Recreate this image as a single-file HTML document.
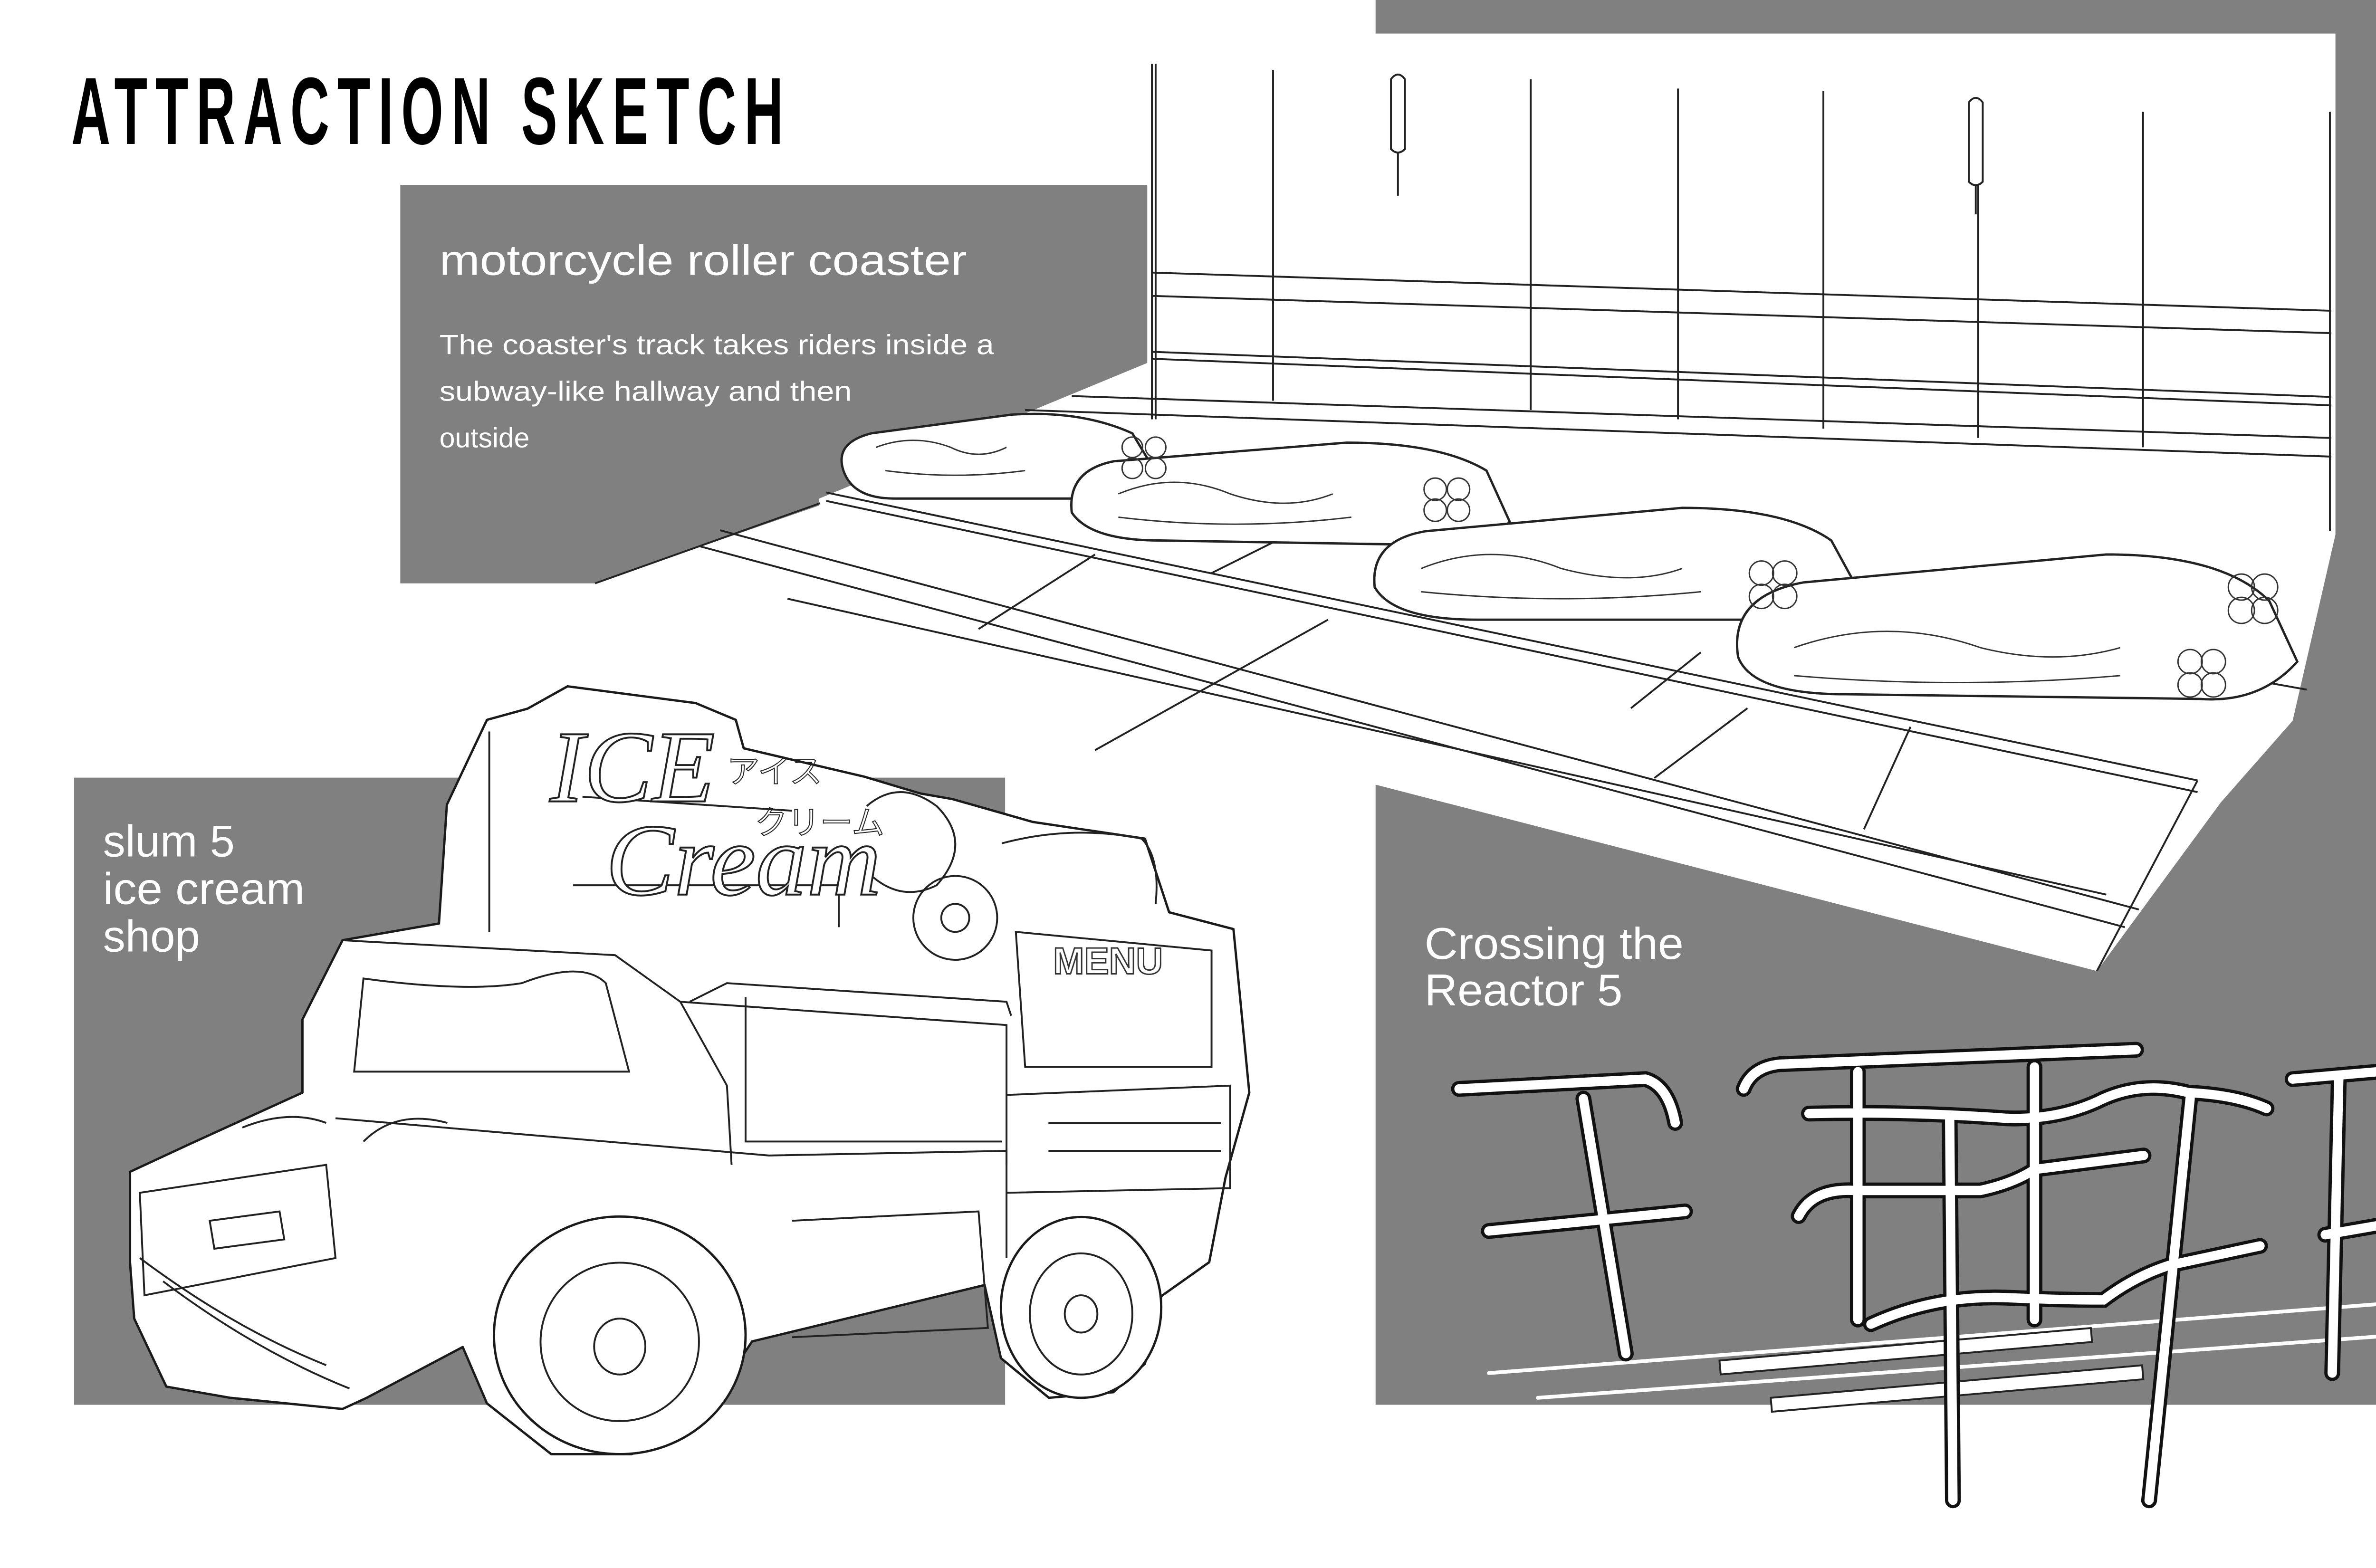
<!DOCTYPE html>
<html><head><meta charset="utf-8"><style>
html,body{margin:0;padding:0;background:#fff;}
svg{display:block}
</style></head><body>
<svg width="5100" height="3300" viewBox="0 0 5100 3300" xmlns="http://www.w3.org/2000/svg">
<rect width="5100" height="3300" fill="#fff"/>
<g transform="scale(0.9806)">
<!-- right gray region -->
<polygon fill="#808080" points="2952,0 5220,0 5220,3015 2952,3015 2952,1684 4500,2084 4766,1722 4920,1547 5012,1147 5012,72 2952,72"/>
<rect x="5012" y="0" width="210" height="1200" fill="#808080"/>
<!-- coaster box -->
<polygon fill="#808080" points="859,397 2462,397 2462,779 1758,1070 1758,1085 1277,1252 859,1252"/>
<!-- ice cream box -->
<rect x="159" y="1669" width="1998" height="1346" fill="#808080"/>

<!-- coaster line art -->
<g stroke="#222" stroke-width="4" fill="none">
<line x1="2472" y1="137" x2="2472" y2="900"/><line x1="2480" y1="137" x2="2480" y2="900"/>
<line x1="2732" y1="150" x2="2732" y2="860"/>
<line x1="3285" y1="170" x2="3285" y2="880"/>
<line x1="3601" y1="190" x2="3601" y2="900"/>
<line x1="3913" y1="195" x2="3913" y2="920"/>
<line x1="4245" y1="215" x2="4245" y2="940"/>
<line x1="4599" y1="240" x2="4599" y2="960"/>
<line x1="5000" y1="240" x2="5000" y2="1140"/>
<line x1="2472" y1="585" x2="5003" y2="667"/>
<line x1="2472" y1="635" x2="5003" y2="715"/>
<line x1="2472" y1="755" x2="5003" y2="852"/>
<line x1="2472" y1="770" x2="5003" y2="870"/>
<line x1="2300" y1="850" x2="5003" y2="940"/>
<line x1="2200" y1="880" x2="5003" y2="980"/>
<line x1="3000" y1="210" x2="3000" y2="420"/>
<line x1="4240" y1="260" x2="4240" y2="460"/>
<path d="M2985,170 q15,-20 30,0 l0,150 q-15,15 -30,0 z" fill="#fff"/>
<path d="M4225,220 q15,-20 30,0 l0,170 q-15,15 -30,0 z" fill="#fff"/>
<line x1="1773" y1="1057" x2="4716" y2="1675"/>
<line x1="1773" y1="1075" x2="4716" y2="1700"/>
<line x1="1545" y1="1138" x2="4590" y2="1952"/>
<line x1="1500" y1="1172" x2="4560" y2="1990"/>
<line x1="1690" y1="1285" x2="4520" y2="1920"/>
<line x1="1277" y1="1252" x2="1760" y2="1080"/>
<line x1="2100" y1="1350" x2="2350" y2="1190"/>
<line x1="2350" y1="1610" x2="2850" y2="1330"/>
<line x1="2600" y1="1230" x2="2800" y2="1130"/>
<line x1="3500" y1="1520" x2="3650" y2="1400"/>
<line x1="3550" y1="1670" x2="3750" y2="1520"/>
<line x1="4000" y1="1780" x2="4100" y2="1560"/>
<line x1="4716" y1="1675" x2="4500" y2="2084"/>
<line x1="2300" y1="1010" x2="4950" y2="1480"/>
</g>
<!-- motorcycles -->
<g stroke="#222" stroke-width="5" fill="#fff">
<path d="M1810,1010 q-20,-60 60,-80 l300,-40 q150,-10 260,40 l60,100 q-40,50 -120,40 l-450,0 q-90,0 -110,-60z"/>
<path d="M2300,1100 q-10,-90 90,-110 l500,-40 q200,0 300,60 l50,110 q-60,60 -150,50 l-600,-10 q-150,0 -190,-60z"/>
<path d="M2950,1260 q-10,-100 110,-120 l550,-50 q220,0 320,70 l60,110 q-60,70 -170,60 l-650,0 q-180,0 -220,-70z"/>
<path d="M3730,1410 q-20,-130 140,-160 l650,-60 q250,0 350,100 l60,130 q-80,90 -210,80 l-760,-10 q-200,0 -230,-80z"/>
</g>
<g stroke="#333" stroke-width="3" fill="none">
<path d="M1880,960 q80,-30 160,0 q60,30 120,0"/><path d="M1900,1010 q150,20 300,0"/>
<circle cx="2430" cy="960" r="22"/><circle cx="2480" cy="960" r="22"/><circle cx="2430" cy="1005" r="22"/><circle cx="2480" cy="1005" r="22"/>
<path d="M2400,1060 q120,-50 240,0 q120,40 220,0"/><path d="M2400,1110 q250,30 500,0"/>
<circle cx="3080" cy="1050" r="24"/><circle cx="3130" cy="1050" r="24"/><circle cx="3080" cy="1095" r="24"/><circle cx="3130" cy="1095" r="24"/>
<path d="M3050,1220 q150,-60 300,0 q150,40 260,0"/><path d="M3050,1270 q300,30 600,0"/>
<circle cx="3780" cy="1230" r="26"/><circle cx="3830" cy="1230" r="26"/><circle cx="3780" cy="1280" r="26"/><circle cx="3830" cy="1280" r="26"/>
<path d="M3850,1390 q200,-70 400,0 q160,40 300,0"/><path d="M3850,1450 q350,30 700,0"/>
<circle cx="4810" cy="1260" r="28"/><circle cx="4860" cy="1260" r="28"/><circle cx="4810" cy="1310" r="28"/><circle cx="4860" cy="1310" r="28"/>
<circle cx="4700" cy="1420" r="26"/><circle cx="4750" cy="1420" r="26"/><circle cx="4700" cy="1470" r="26"/><circle cx="4750" cy="1470" r="26"/>
</g>

<!-- railings -->
<g fill="none" stroke-linecap="round">
<g stroke="#fff" stroke-width="8">
<line x1="3195" y1="2947" x2="5220" y2="2790"/>
<line x1="3300" y1="3000" x2="5220" y2="2860"/>
</g>
<rect x="3690" y="2920" width="800" height="30" fill="#fff" stroke="#222" stroke-width="4" transform="rotate(-5 3690 2920)"/>
<rect x="3800" y="3000" width="800" height="30" fill="#fff" stroke="#222" stroke-width="4" transform="rotate(-5 3800 3000)"/>
<g stroke="#111" stroke-width="34">
<path d="M3131,2337 L3531,2316 Q3580,2330 3595,2410"/>
<path d="M3398,2358 L3489,2905"/>
<path d="M3195,2642 L3616,2600"/>
<path d="M3742,2337 Q3760,2290 3820,2284 L4584,2253"/>
<path d="M3987,2300 L3987,2832"/><path d="M4366,2290 L4366,2832"/>
<path d="M3882,2390 Q4100,2385 4303,2400 Q4420,2405 4514,2358 Q4600,2320 4696,2345 Q4800,2350 4864,2379"/>
<path d="M4184,2400 L4191,3220"/><path d="M4700,2358 L4612,3220"/>
<path d="M3860,2610 Q3890,2550 3980,2555 L4250,2555 Q4320,2540 4366,2510 L4600,2480"/>
<path d="M4015,2842 Q4150,2780 4303,2785 Q4420,2790 4514,2790 Q4580,2740 4654,2716 L4850,2674"/>
<path d="M4920,2316 L5220,2290"/><path d="M5019,2316 L5005,2947"/><path d="M4990,2650 L5220,2610"/>
</g>
<g stroke="#fff" stroke-width="20">
<path d="M3131,2337 L3531,2316 Q3580,2330 3595,2410"/>
<path d="M3398,2358 L3489,2905"/>
<path d="M3195,2642 L3616,2600"/>
<path d="M3742,2337 Q3760,2290 3820,2284 L4584,2253"/>
<path d="M3987,2300 L3987,2832"/><path d="M4366,2290 L4366,2832"/>
<path d="M3882,2390 Q4100,2385 4303,2400 Q4420,2405 4514,2358 Q4600,2320 4696,2345 Q4800,2350 4864,2379"/>
<path d="M4184,2400 L4191,3220"/><path d="M4700,2358 L4612,3220"/>
<path d="M3860,2610 Q3890,2550 3980,2555 L4250,2555 Q4320,2540 4366,2510 L4600,2480"/>
<path d="M4015,2842 Q4150,2780 4303,2785 Q4420,2790 4514,2790 Q4580,2740 4654,2716 L4850,2674"/>
<path d="M4920,2316 L5220,2290"/><path d="M5019,2316 L5005,2947"/><path d="M4990,2650 L5220,2610"/>
</g>
</g>

<!-- truck -->
<g stroke="#1a1a1a" stroke-width="5" fill="#fff" stroke-linejoin="round">
<polygon points="279,2515 408,2455 649,2345 649,2188 735,2018 942,1982 959,1727 1045,1545 1132,1521 1218,1473 1493,1509 1579,1545 1596,1606 1855,1667 1975,1703 2044,1715 2216,1764 2457,1800 2509,1958 2647,1994 2681,2345 2630,2527 2595,2709 2492,2782 2457,2927 2389,2988 2251,3000 2148,2915 2113,2758 1614,2879 1493,3061 1355,3121 1183,3121 1045,3012 993,2891 787,3000 735,3024 494,3000 357,2976 288,2830 279,2709"/>
</g>
<g stroke="#222" stroke-width="4" fill="none">
<path d="M735,2018 L1320,2050 L1460,2150 L1560,2330 L1570,2500"/>
<path d="M780,2100 Q1000,2130 1120,2110 Q1250,2060 1300,2110 L1350,2300 L760,2300 Z"/>
<path d="M720,2400 L1650,2480 L2160,2470 L2160,2700"/>
<path d="M1460,2150 L2160,2200 L2160,2500"/>
<path d="M1600,2140 L1600,2450 L2150,2450"/>
<path d="M1480,2150 L1560,2110 L2160,2150 L2170,2180"/>
<path d="M2180,2000 L2600,2040 L2600,2290 L2200,2290 Z"/>
<path d="M2160,2350 L2640,2330 L2640,2550 L2160,2560"/>
<path d="M2250,2410 L2620,2410 M2250,2470 L2620,2470"/>
<path d="M1700,2620 L2100,2600 L2120,2850 L1700,2870"/>
<path d="M300,2560 L700,2500 L720,2700 L310,2780 Z"/>
<path d="M450,2620 L600,2600 L610,2660 L460,2680 Z"/>
<path d="M300,2700 Q500,2850 700,2930 M350,2750 Q550,2900 750,2980"/>
<path d="M520,2420 Q620,2380 700,2410 M780,2450 Q850,2380 960,2410"/>
<path d="M1050,1570 L1050,2000 M1230,1900 L1800,1900 L1800,1990"/>
<path d="M1250,1710 L1700,1740"/>
<path d="M1860,1730 q70,-60 150,0 q80,80 0,170 q-80,40 -150,-30"/>
<circle cx="2050" cy="1970" r="90"/><circle cx="2050" cy="1970" r="30"/>
<path d="M2150,1810 q150,-40 300,-10 q40,40 30,140"/>
</g>
<g stroke="#1a1a1a" stroke-width="5" fill="#fff">
<ellipse cx="1330" cy="2866" rx="270" ry="255"/>
<ellipse cx="2320" cy="2806" rx="172" ry="194"/>
</g>
<g stroke="#222" stroke-width="4" fill="none">
<ellipse cx="1330" cy="2880" rx="170" ry="170"/>
<ellipse cx="1330" cy="2890" rx="55" ry="60"/>
<ellipse cx="2320" cy="2820" rx="110" ry="130"/>
<ellipse cx="2320" cy="2820" rx="35" ry="40"/>
</g>
<text x="1300" y="1920" font-family="Liberation Serif, serif" font-style="italic" font-size="220" fill="#fff" stroke="#222" stroke-width="4">Cream</text>
<text x="1180" y="1720" font-family="Liberation Serif, serif" font-style="italic" font-size="220" fill="#fff" stroke="#222" stroke-width="4">ICE</text>
<text x="1560" y="1680" font-family="'Noto Sans CJK JP', sans-serif" font-size="70" fill="none" stroke="#222" stroke-width="2">アイス</text>
<text x="1620" y="1790" font-family="'Noto Sans CJK JP', sans-serif" font-size="70" fill="none" stroke="#222" stroke-width="2">クリーム</text>
<text x="2260" y="2090" font-family="Liberation Sans, sans-serif" font-weight="bold" font-size="80" fill="#fff" stroke="#333" stroke-width="3">MENU</text>

<!-- text -->
<text x="153" y="309" font-family="Liberation Sans, sans-serif" font-weight="bold" font-size="205" letter-spacing="30" textLength="1545" lengthAdjust="spacingAndGlyphs" fill="#000">ATTRACTION SKETCH</text>
<text x="943" y="590" font-family="Liberation Sans, sans-serif" font-size="92" textLength="1132" lengthAdjust="spacingAndGlyphs" fill="#fff">motorcycle roller coaster</text>
<g font-family="Liberation Sans, sans-serif" font-size="60" fill="#fff">
<text x="943" y="760" textLength="1190" lengthAdjust="spacingAndGlyphs">The coaster's track takes riders inside a</text>
<text x="943" y="860" textLength="885" lengthAdjust="spacingAndGlyphs">subway-like hallway and then</text>
<text x="943" y="960">outside</text>
</g>
<g font-family="Liberation Sans, sans-serif" font-size="96" fill="#fff">
<text x="221" y="1838">slum 5</text>
<text x="221" y="1940" textLength="433" lengthAdjust="spacingAndGlyphs">ice cream</text>
<text x="221" y="2042">shop</text>
<text x="3057" y="2058" textLength="556" lengthAdjust="spacingAndGlyphs">Crossing the</text>
<text x="3057" y="2158" textLength="425" lengthAdjust="spacingAndGlyphs">Reactor 5</text>
</g>
</g>
</svg>
</body></html>
